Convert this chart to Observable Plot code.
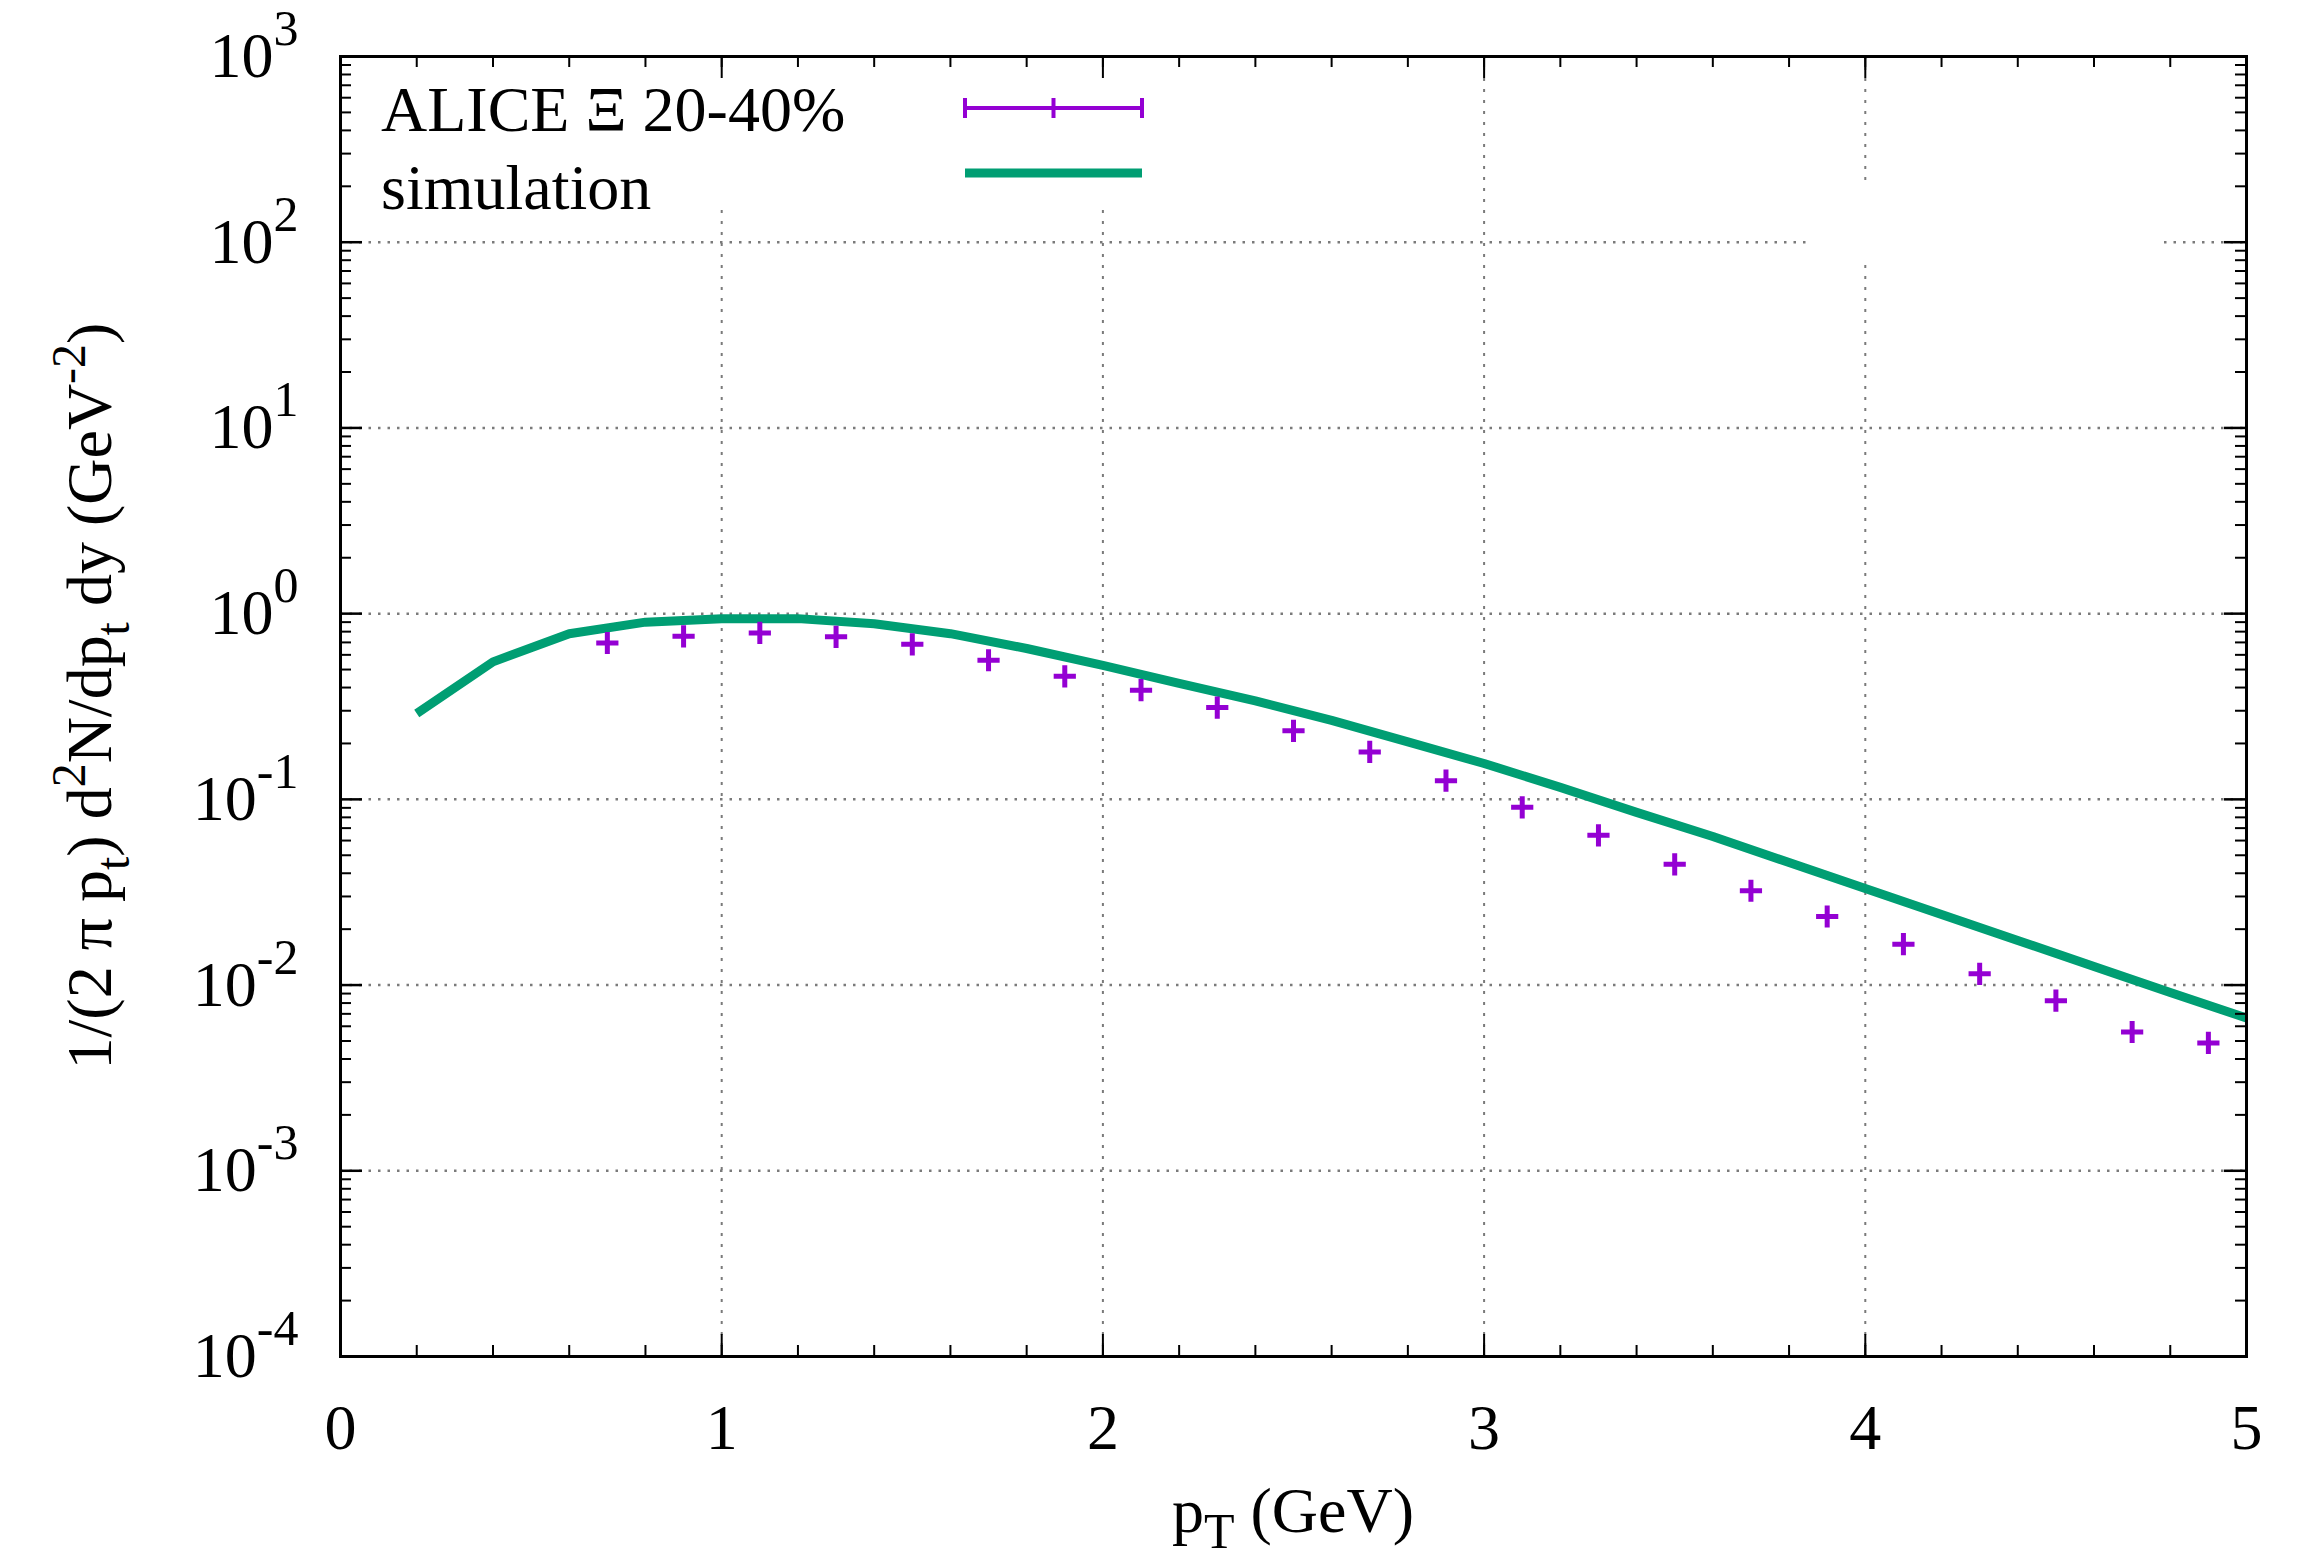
<!DOCTYPE html>
<html>
<head>
<meta charset="utf-8">
<script src="https://cdn.jsdelivr.net/npm/d3@7"></script>
<script src="https://cdn.jsdelivr.net/npm/@observablehq/plot@0.6"></script>
<style>
  html, body { margin: 0; padding: 0; background: #fff; }
  #chart { width: 2316px; height: 1561px; }
</style>
</head>
<body>
<div id="chart"></div>
<script>
// ---- data ----
const simPt = [0.2, 0.4, 0.6, 0.8, 1.0, 1.2, 1.4, 1.6, 1.8, 2.0, 2.2, 2.4, 2.6, 2.8, 3.0, 3.2, 3.4, 3.6, 3.8, 4.0, 4.2, 4.4, 4.6, 4.8, 5.0];
const simYield = [0.29, 0.55, 0.78, 0.90, 0.94, 0.94, 0.883, 0.78, 0.649, 0.527, 0.421, 0.339, 0.266, 0.204, 0.156, 0.116, 0.0851, 0.0631, 0.0457, 0.0331, 0.024, 0.0174, 0.0126, 0.00912, 0.00665];

const alicePt = [0.7, 0.9, 1.1, 1.3, 1.5, 1.7, 1.9, 2.1, 2.3, 2.5, 2.7, 2.9, 3.1, 3.3, 3.5, 3.7, 3.9, 4.1, 4.3, 4.5, 4.7, 4.9];
const aliceYield = [0.695, 0.755, 0.787, 0.75, 0.684, 0.561, 0.46, 0.387, 0.312, 0.234, 0.18, 0.126, 0.0906, 0.064, 0.0447, 0.0322, 0.0234, 0.0166, 0.0115, 0.00824, 0.00559, 0.00488];

const xTickLabels = [0, 1, 2, 3, 4, 5];
const yTickExponents = [-4, -3, -2, -1, 0, 1, 2, 3];
const xGridValues = [1, 2, 3, 4];
const yGridValues = [1e-3, 1e-2, 1e-1, 1, 10, 100];

const seriesNames = ["ALICE \u039E 20-40%", "simulation"];
const colAlice = "#9400d3";
const colSim = "#009e73";

// ---- layout ----
const W = 2316, H = 1561;
const mL = 340, mR = 70, mT = 56, mB = 205;
const fw = W - mL - mR, fh = H - mT - mB;
const FONT = "'Liberation Serif', 'Times New Roman', serif";

const xMinor = d3.range(0, 5.0001, 0.2).map(v => +v.toFixed(1));
const yMinor = [];
for (let e = -4; e < 3; e++) for (let k = 2; k <= 9; k++) yMinor.push(k * Math.pow(10, e));
const yMajor = yTickExponents.map(e => Math.pow(10, e));

const simIdx = d3.range(simPt.length);
const aliceIdx = d3.range(alicePt.length);

const svg = Plot.plot({
  width: W, height: H,
  marginLeft: mL, marginRight: mR, marginTop: mT, marginBottom: mB,
  style: { fontFamily: FONT, background: "white", color: "black" },
  x: { domain: [0, 5], axis: null },
  y: { type: "log", domain: [1e-4, 1e3], axis: null },
  marks: [
    Plot.ruleX(xGridValues, { x: d => d, stroke: "#7a7a7a", strokeWidth: 2, strokeDasharray: "3,8" }),
    Plot.ruleY(yGridValues, { y: d => d, stroke: "#7a7a7a", strokeWidth: 2.5, strokeDasharray: "2.5,7" }),
    Plot.line(simIdx, { x: i => simPt[i], y: i => simYield[i], stroke: colSim, strokeWidth: 9, strokeLinecap: "butt", strokeLinejoin: "round" }),
    Plot.dot(aliceIdx, { x: i => alicePt[i], y: i => aliceYield[i], symbol: "plus", r: 7.2, stroke: colAlice, strokeWidth: 5 }),
    // ticks (inward)
    Plot.ruleX(xMinor, { x: d => d, insetTop: fh - 11, stroke: "black", strokeWidth: 2 }),
    Plot.ruleX(xMinor, { x: d => d, insetBottom: fh - 11, stroke: "black", strokeWidth: 2 }),
    Plot.ruleX(xTickLabels, { x: d => d, insetTop: fh - 22, stroke: "black", strokeWidth: 2 }),
    Plot.ruleX(xTickLabels, { x: d => d, insetBottom: fh - 22, stroke: "black", strokeWidth: 2 }),
    Plot.ruleY(yMinor, { y: d => d, insetRight: fw - 11, stroke: "black", strokeWidth: 2 }),
    Plot.ruleY(yMinor, { y: d => d, insetLeft: fw - 11, stroke: "black", strokeWidth: 2 }),
    Plot.ruleY(yMajor, { y: d => d, insetRight: fw - 22, stroke: "black", strokeWidth: 2.5 }),
    Plot.ruleY(yMajor, { y: d => d, insetLeft: fw - 22, stroke: "black", strokeWidth: 2.5 }),
    Plot.frame({ stroke: "black", strokeWidth: 3 }),
    // tick labels
    Plot.text(xTickLabels, { x: d => d, frameAnchor: "bottom", dy: 72, lineAnchor: "middle", text: d => String(d), fontSize: 64, fill: "black" }),
    Plot.text(yTickExponents, { y: e => Math.pow(10, e), frameAnchor: "left", dx: -42, textAnchor: "end", lineAnchor: "middle", text: e => "10^" + e, fontSize: 64, fill: "black" })
  ]
});

document.getElementById("chart").appendChild(svg);
const s = d3.select(svg);

// superscripts in y tick labels
s.selectAll("text").each(function () {
  const txt = this.textContent;
  if (txt.indexOf("^") < 0) return;
  const parts = txt.split("^");
  const t = d3.select(this);
  t.text("");
  t.append("tspan").text(parts[0]);
  t.append("tspan").attr("dy", -32).attr("font-size", 50).text(parts[1]);
});

// white legend backgrounds (cover grid, as in the reference)
const ns = "http://www.w3.org/2000/svg";
const gridY = svg.querySelector('g[stroke-dasharray="2.5,7"]');
function whiteRect(x, y, w, h) {
  const r = document.createElementNS(ns, "rect");
  r.setAttribute("x", x); r.setAttribute("y", y);
  r.setAttribute("width", w); r.setAttribute("height", h);
  r.setAttribute("fill", "white");
  if (gridY && gridY.parentNode) gridY.parentNode.insertBefore(r, gridY.nextSibling);
}
whiteRect(345, 58, 860, 152);
whiteRect(1806, 183, 358, 77);

// legend
const leg = s.append("g").attr("font-family", FONT).attr("font-size", 64).attr("fill", "black").attr("text-anchor", "start");
leg.append("text").attr("x", 381).attr("y", 131).attr("text-anchor", "start").text(seriesNames[0]);
leg.append("text").attr("x", 381).attr("y", 209).attr("text-anchor", "start").text(seriesNames[1]);
const lx1 = 965, lx2 = 1142, ly1 = 108, ly2 = 173;
const pk = leg.append("g").attr("stroke", colAlice).attr("stroke-width", 4);
pk.append("line").attr("x1", lx1).attr("x2", lx2).attr("y1", ly1).attr("y2", ly1);
[lx1, (lx1 + lx2) / 2, lx2].forEach(x => pk.append("line").attr("x1", x).attr("x2", x).attr("y1", ly1 - 10).attr("y2", ly1 + 10));
leg.append("line").attr("x1", lx1).attr("x2", lx2).attr("y1", ly2).attr("y2", ly2).attr("stroke", colSim).attr("stroke-width", 9);

// x axis title
const xt = s.append("text").attr("x", mL + fw / 2).attr("y", 1532).attr("text-anchor", "middle")
  .attr("font-family", FONT).attr("font-size", 64).attr("fill", "black");
xt.append("tspan").text("p");
xt.append("tspan").attr("dy", 16).attr("font-size", 50).text("T");
xt.append("tspan").attr("dy", -16).text(" (GeV)");

// y axis title
const yt = s.append("text").attr("transform", `translate(111,${mT + fh / 2 - 10}) rotate(-90)`)
  .attr("text-anchor", "middle").attr("font-family", FONT).attr("font-size", 64).attr("fill", "black");
yt.append("tspan").text("1/(2 \u03C0 p");
yt.append("tspan").attr("dy", 18).attr("font-size", 48).text("t");
yt.append("tspan").attr("dy", -18).text(") d");
yt.append("tspan").attr("dy", -26).attr("font-size", 48).text("2");
yt.append("tspan").attr("dy", 26).text("N/dp");
yt.append("tspan").attr("dy", 18).attr("font-size", 48).text("t");
yt.append("tspan").attr("dy", -18).text(" dy (GeV");
yt.append("tspan").attr("dy", -26).attr("font-size", 48).text("-2");
yt.append("tspan").attr("dy", 26).text(")");
</script>
</body>
</html>
